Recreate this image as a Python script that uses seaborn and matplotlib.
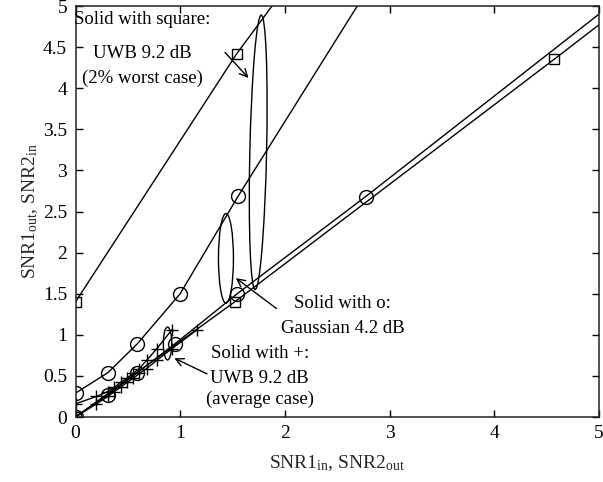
import matplotlib
matplotlib.use("Agg")
import matplotlib.pyplot as plt
from matplotlib.patches import Ellipse
import seaborn as sns
import pandas as pd

# Curvas
sq_lo_x = [0, 1.52, 4.57, 9.96]
sq_lo_y = [0, 1.40, 4.35, 9.63]
sq_up_x = [0, 1.54, 4.57]
sq_up_y = [1.40, 4.42, 9.63]

ci_lo_x = [0, 0.31, 0.59, 0.95, 1.545, 2.77, 5.26]
ci_lo_y = [0, 0.27, 0.54, 0.89, 1.50, 2.68, 5.16]
ci_up_x = [0, 0.31, 0.59, 1.0, 1.555, 2.77]
ci_up_y = [0.29, 0.54, 0.89, 1.50, 2.69, 5.16]

pl_lo_x = [0, 0.2, 0.31, 0.37, 0.43, 0.49, 0.55, 0.61, 0.68, 0.776, 0.92, 1.16]
pl_lo_y = [0, 0.16, 0.25, 0.31, 0.36, 0.42, 0.47, 0.53, 0.59, 0.69, 0.83, 1.06]
pl_up_x = [0, 0.2, 0.31, 0.37, 0.43, 0.49, 0.55, 0.61, 0.68, 0.776, 0.92]
pl_up_y = [0.16, 0.25, 0.31, 0.36, 0.42, 0.47, 0.53, 0.59, 0.69, 0.83, 1.06]

x_ticks = [0, 1, 2, 3, 4, 5]
y_ticks = [0, 0.5, 1, 1.5, 2, 2.5, 3, 3.5, 4, 4.5, 5]
y_tick_labels = ["0", "0.5", "1", "1.5", "2", "2.5", "3", "3.5", "4", "4.5", "5"]

#%%
sns.set_style("ticks")
plt.rcParams["font.family"] = ["Liberation Serif", "DejaVu Serif"]
plt.rcParams["mathtext.fontset"] = "custom"
plt.rcParams["mathtext.rm"] = "Liberation Serif"
plt.rcParams["mathtext.it"] = "Liberation Serif:italic"

fig = plt.figure(figsize=(6.03, 4.82), dpi=100)
ax = fig.add_axes([75.5 / 603, 65 / 482, 523.5 / 603, 411 / 482])

estilo = dict(color="k", lw=1.0, markerfacecolor="none", markeredgecolor="k",
              markeredgewidth=1.0, sort=False, errorbar=None, ax=ax)

series = [
    (sq_lo_x, sq_lo_y, "s", 7),
    (sq_up_x, sq_up_y, "s", 7),
    (ci_lo_x, ci_lo_y, "o", 10),
    (ci_up_x, ci_up_y, "o", 10),
    (pl_lo_x, pl_lo_y, "+", 9),
    (pl_up_x, pl_up_y, "+", 9),
]
for xs, ys, mk, ms in series:
    df = pd.DataFrame({"x": xs, "y": ys})
    sns.lineplot(data=df, x="x", y="y", marker=mk, markersize=ms, **estilo)

ax.set_xlim(0, 5)
ax.set_ylim(0, 5)
ax.set_xticks(x_ticks)
ax.set_yticks(y_ticks)
ax.set_yticklabels(y_tick_labels)
ax.tick_params(direction="in", length=5, width=1, labelsize=14, colors="k",
               top=True, right=True, pad=6)
for s in ax.spines.values():
    s.set_visible(True)
    s.set_linewidth(1.1)
    s.set_color("#222222")

ax.set_xlabel(r"SNR1$_{\mathrm{in}}$, SNR2$_{\mathrm{out}}$", fontsize=14, labelpad=8)
ax.set_ylabel(r"SNR1$_{\mathrm{out}}$, SNR2$_{\mathrm{in}}$", fontsize=14, labelpad=2)

# Elipses
for cx, cy, w, h, ang in [(1.745, 3.22, 0.16, 3.34, -1.0), (1.437, 1.93, 0.143, 1.09, 0),
                          (0.879, 0.894, 0.08, 0.40, 0)]:
    ax.add_patch(Ellipse((cx, cy), w, h, angle=ang, fill=False, lw=1.0, ec="k"))

# Setas
seta = dict(arrowstyle="->", lw=1.0, color="k", mutation_scale=14)
ax.annotate("", xy=(1.67, 4.10), xytext=(1.41, 4.46), arrowprops=seta)
ax.annotate("", xy=(1.51, 1.71), xytext=(1.94, 1.30), arrowprops=seta)
ax.annotate("", xy=(0.92, 0.73), xytext=(1.28, 0.51), arrowprops=seta)

# Textos
txt = dict(fontsize=13.5, ha="center", va="center", color="k")
ax.text(0.635, 4.83, "Solid with square:", **txt)
ax.text(0.635, 4.42, "UWB 9.2 dB", **txt)
ax.text(0.635, 4.12, "(2% worst case)", **txt)
ax.text(2.55, 1.38, "Solid with o:", **txt)
ax.text(2.55, 1.08, "Gaussian 4.2 dB", **txt)
ax.text(1.76, 0.77, "Solid with +:", **txt)
ax.text(1.76, 0.47, "UWB 9.2 dB", **txt)
ax.text(1.76, 0.21, "(average case)", **txt)

fig.savefig("out.png", dpi=100)
